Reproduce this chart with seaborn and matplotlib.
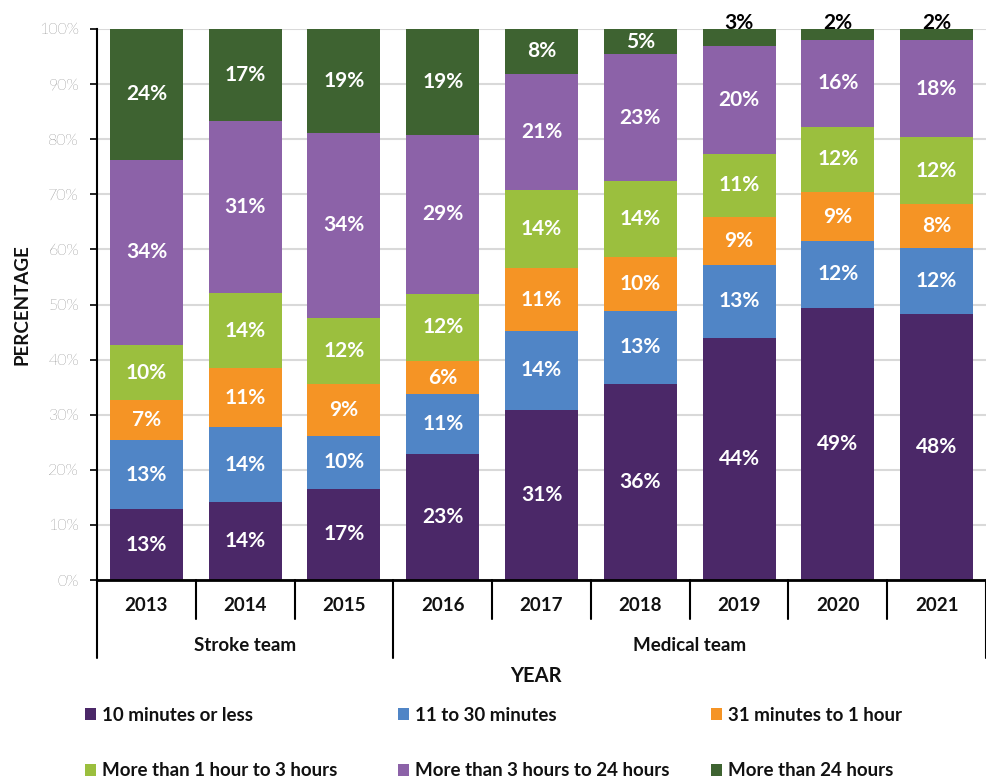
import numpy as np
import pandas as pd
import matplotlib
matplotlib.use("Agg")
import matplotlib.pyplot as plt
import seaborn as sns
from matplotlib.patches import Patch
from matplotlib.lines import Line2D

# ---------------- data ----------------
years = ["2013", "2014", "2015", "2016", "2017", "2018", "2019", "2020", "2021"]
teams = ["Stroke team"] * 3 + ["Medical team"] * 6

categories = [
    "10 minutes or less",
    "11 to 30 minutes",
    "31 minutes to 1 hour",
    "More than 1 hour to 3 hours",
    "More than 3 hours to 24 hours",
    "More than 24 hours",
]

min_0_10 = [12.8, 14.1, 16.6, 22.8, 30.9, 35.6, 44.0, 49.4, 48.3]
min_11_30 = [12.6, 13.7, 9.6, 10.9, 14.3, 13.2, 13.2, 12.1, 11.9]
min_31_60 = [7.3, 10.6, 9.4, 6.1, 11.4, 9.8, 8.7, 8.9, 8.0]
hr_1_3 = [9.9, 13.7, 11.9, 12.1, 14.2, 13.8, 11.4, 11.9, 12.2]
hr_3_24 = [33.7, 31.2, 33.7, 28.9, 21.1, 23.0, 19.7, 15.7, 17.6]
hr_24_plus = [23.7, 16.7, 18.8, 19.2, 8.1, 4.6, 3.0, 2.0, 2.0]

series = [min_0_10, min_11_30, min_31_60, hr_1_3, hr_3_24, hr_24_plus]
colors = ["#4B2868", "#5085C6", "#F59425", "#9BBF3E", "#8C62A8", "#3E6331"]

rows = []
for cat, vals in zip(categories, series):
    for y, v in zip(years, vals):
        rows.append({"year": y, "category": cat, "value": v})
df = pd.DataFrame(rows)
df["category"] = pd.Categorical(df["category"], categories=categories, ordered=True)
df = df.sort_values(["year", "category"])
df["top"] = df.groupby("year")["value"].cumsum()
df["bottom"] = df["top"] - df["value"]

# ---------------- style ----------------
sns.set_theme(style="white")
plt.rcParams["font.family"] = ["Lato", "DejaVu Sans"]

W, H = 987, 783
fig = plt.figure(figsize=(W / 100, H / 100), dpi=100)
ax = fig.add_axes([97 / W, 1 - 580 / H, 889 / W, 551 / H])

for i in reversed(range(len(categories))):
    sub = df[df["category"] == categories[i]]
    sns.barplot(data=sub, x="year", y="top", order=years, color=colors[i],
                width=0.74, saturation=1, errorbar=None, linewidth=0, ax=ax)

ax.set_xlim(-0.5, len(years) - 0.5)
ax.set_ylim(0, 100)
ax.set_yticks(range(0, 101, 10))
ax.set_yticklabels([f"{t}%" for t in range(0, 101, 10)], fontweight="light")
ax.yaxis.grid(True, color="#D9D9D9", lw=1.5)
ax.xaxis.grid(False)
ax.set_axisbelow(True)
for s in ["top", "right"]:
    ax.spines[s].set_visible(False)
ax.spines["left"].set_color("black")
ax.spines["left"].set_linewidth(1.5)
ax.spines["bottom"].set_color("black")
ax.spines["bottom"].set_linewidth(2)
ax.tick_params(axis="y", length=5, width=1.2, color="black", labelsize=11.5,
               labelcolor="#2a2a2a", pad=8, left=True)
ax.tick_params(axis="x", length=0, labelbottom=False)
ax.set_xlabel("")
ax.set_ylabel("")

# data labels
for _, r in df.iterrows():
    j = years.index(r["year"])
    v = r["value"]
    if v >= 4:
        ax.text(j, r["bottom"] + v / 2, f"{v:.0f}%", ha="center", va="center",
                color="white", fontsize=15, fontweight="bold")
    else:
        ax.text(j, 99.3, f"{v:.0f}%", ha="center", va="bottom",
                color="black", fontsize=15, fontweight="bold", clip_on=False)

# x-axis table
xt = ax.get_xaxis_transform()
for j, y in enumerate(years):
    ax.text(j, -0.0454, y, transform=xt, ha="center", va="center",
            fontsize=13.5, fontweight="bold", color="#111111")

group_edges = [0]
for k in range(1, len(teams)):
    if teams[k] != teams[k - 1]:
        group_edges.append(k)
group_edges.append(len(teams))

for k in range(len(years) + 1):
    long = k in group_edges
    ax.add_line(Line2D([k - 0.5, k - 0.5], [0, -0.1416 if long else -0.0708],
                       transform=xt, color="black", lw=1.5, clip_on=False))

for a, b in zip(group_edges[:-1], group_edges[1:]):
    ax.text((a + b - 1) / 2, -0.118, teams[a], transform=xt, ha="center",
            va="center", fontsize=13.5, fontweight="bold", color="#111111")

fig.text(536 / W, 1 - 676 / H, "YEAR", ha="center", va="center",
         fontsize=14.5, fontweight="bold", color="#111111")
fig.text(22 / W, 1 - 305 / H, "PERCENTAGE", ha="center", va="center",
         rotation=90, fontsize=13.5, fontweight="bold", color="#111111")

# legend: three columns
col_x = [85, 398, 711]
for c in range(3):
    idx = [c, c + 3]
    handles = [Patch(facecolor=colors[i], edgecolor="none") for i in idx]
    labels = [categories[i] for i in idx]
    leg = fig.legend(handles, labels, loc="center left",
                     bbox_to_anchor=(col_x[c] / W, 1 - 743 / H),
                     frameon=False, borderpad=0, borderaxespad=0,
                     handlelength=0.6, handleheight=0.6, handletextpad=0.3,
                     labelspacing=2.05, prop={"weight": "bold", "size": 13.5})
    for t in leg.get_texts():
        t.set_color("#111111")

fig.savefig("out.png", dpi=100)
